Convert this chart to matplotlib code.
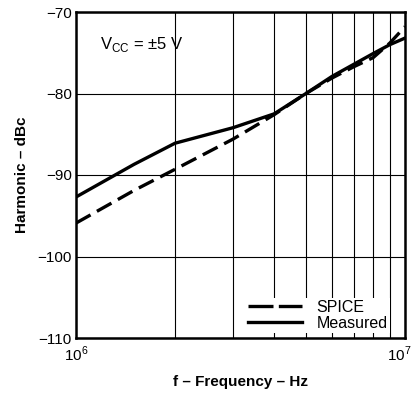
import matplotlib.pyplot as plt
import matplotlib.transforms as mtransforms
from matplotlib.lines import Line2D
import numpy as np

plt.rcParams['font.family'] = ['Liberation Sans', 'DejaVu Sans']

freq = [1e6, 1.5e6, 2e6, 3e6, 4e6, 5e6, 6e6, 7e6, 8e6, 9e6, 1e7]
measured = [-92.7, -88.7, -86.1, -84.2, -82.5, -80.0, -77.9, -76.4, -75.1, -74.0, -73.2]
spice = [-95.9, -91.9, -89.3, -85.6, -82.6, -80.0, -78.1, -76.7, -75.6, -73.8, -71.8]

fig = plt.figure(figsize=(4.15, 3.94), dpi=100)
ax = fig.add_axes([76 / 415, 1 - 338 / 394, 329 / 415, 326 / 394])

ax.plot(freq, spice, color='black', lw=2.4, ls=(0, (5, 2.2)))
ax.plot(freq, measured, color='black', lw=2.4)

ax.set_xscale('log')
ax.set_xlim(1e6, 1e7)
ax.set_ylim(-110, -70)
ax.set_yticks([-110, -100, -90, -80, -70])
ax.set_yticklabels(['\u2212110', '\u2212100', '\u221290', '\u221280', '\u221270'])
ax.set_xticks([1e6, 1e7])
ax.set_xticklabels(['10$^\\mathregular{6}$', '10$^\\mathregular{7}$'])
ax.set_xticks([k * 1e6 for k in range(2, 10)], minor=True)
ax.set_xticklabels([], minor=True)
ax.tick_params(which='both', length=0, labelsize=11, pad=3)
ax.tick_params(axis='x', pad=5)
# nudge the 10^7 label left so it stays inside the figure
lbl7 = ax.get_xticklabels()[1]
lbl7.set_transform(lbl7.get_transform() +
                   mtransforms.ScaledTranslation(-6 / 100, 0, fig.dpi_scale_trans))

ax.grid(True, which='both', color='black', lw=0.8)
for s in ax.spines.values():
    s.set_linewidth(1.8)

ax.text(1.18e6, -74.6, 'V$_\\mathregular{CC}$ = \u00b15 V', fontsize=12)

ax.set_ylabel('Harmonic \u2013 dBc', fontweight='bold', fontsize=11, labelpad=6)
ax.set_xlabel('f \u2013 Frequency \u2013 Hz', fontweight='bold', fontsize=11, labelpad=8)

handles = [Line2D([], [], color='black', lw=2.4, ls=(0, (7.5, 1.6))),
           Line2D([], [], color='black', lw=2.4)]
leg = ax.legend(handles, ['SPICE', 'Measured'], loc='lower right',
                bbox_to_anchor=(0.955, 0.015), borderaxespad=0,
                frameon=True, fancybox=False, framealpha=1,
                edgecolor='white', fontsize=11.5, handlelength=3.4,
                labelspacing=0.05, borderpad=0.15, handletextpad=0.9)
leg.get_frame().set_linewidth(0)

fig.savefig('out.png', dpi=100)
